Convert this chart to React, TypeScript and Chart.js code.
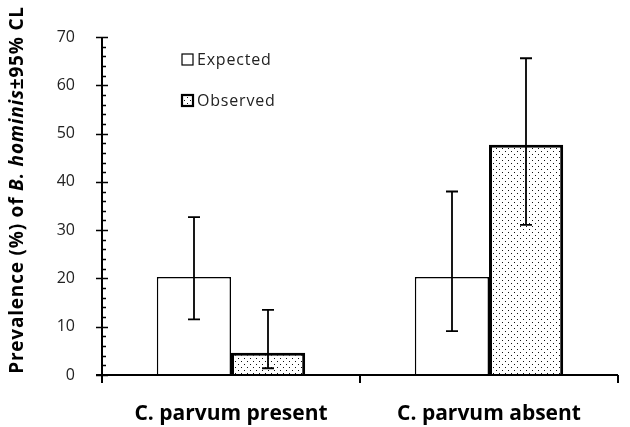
import React, { useEffect, useRef } from "react";
import { Chart, registerables } from "chart.js";

Chart.register(...registerables);

const categories = ["C. parvum present", "C. parvum absent"];
const seriesNames = ["Expected", "Observed"];
const expectedValues = [20.3, 20.3];
const expectedLower = [11.5, 9.1];
const expectedUpper = [32.7, 38.0];
const observedValues = [4.6, 47.7];
const observedLower = [1.4, 31.1];
const observedUpper = [13.5, 65.6];
const yMin = 0;
const yMax = 70;
const yMajorStep = 10;
const yMinorStep = 2;
const yTitleParts = [
  { text: "Prevalence (%) of ", italic: false },
  { text: "B. hominis", italic: true },
  { text: "±95% CL", italic: false },
];

const FONT = "'Open Sans', Lato, sans-serif";

function makeDotPattern(ctx: CanvasRenderingContext2D): CanvasPattern | string {
  const c = document.createElement("canvas");
  c.width = 6;
  c.height = 6;
  const g = c.getContext("2d");
  if (!g) return "#ccc";
  g.fillStyle = "#ffffff";
  g.fillRect(0, 0, 6, 6);
  g.fillStyle = "#111111";
  g.fillRect(1, 1, 1, 1);
  g.fillRect(4, 4, 1, 1);
  const p = ctx.createPattern(c, "repeat");
  return p || "#ccc";
}

export default function App() {
  const canvasRef = useRef<HTMLCanvasElement | null>(null);

  useEffect(() => {
    const canvas = canvasRef.current;
    if (!canvas) return;
    const ctx0 = canvas.getContext("2d") as CanvasRenderingContext2D;
    const dots = makeDotPattern(ctx0);
    const lowers = [expectedLower, observedLower];
    const uppers = [expectedUpper, observedUpper];

    const errorBarPlugin = {
      id: "errorBars",
      afterDatasetsDraw(chart: any) {
        const ctx = chart.ctx;
        const y = chart.scales.y;
        chart.data.datasets.forEach((_ds: any, di: number) => {
          const meta = chart.getDatasetMeta(di);
          meta.data.forEach((bar: any, i: number) => {
            const x = Math.round(bar.x);
            const yl = y.getPixelForValue(lowers[di][i]);
            const yh = y.getPixelForValue(uppers[di][i]);
            ctx.save();
            ctx.strokeStyle = "#000";
            ctx.lineWidth = 1.8;
            ctx.beginPath();
            ctx.moveTo(x, yl);
            ctx.lineTo(x, yh);
            ctx.moveTo(x - 6, yl);
            ctx.lineTo(x + 6, yl);
            ctx.moveTo(x - 6, yh);
            ctx.lineTo(x + 6, yh);
            ctx.stroke();
            ctx.restore();
          });
        });
      },
    };

    const axesPlugin = {
      id: "customAxes",
      afterDatasetsDraw(chart: any) {
        const ctx = chart.ctx;
        const y = chart.scales.y;
        const x = chart.scales.x;
        const ax = chart.chartArea.left;
        const ay = y.getPixelForValue(yMin);
        const right = chart.chartArea.right;
        ctx.save();
        ctx.strokeStyle = "#000";
        ctx.lineWidth = 2;
        ctx.beginPath();
        ctx.moveTo(ax, y.getPixelForValue(yMax));
        ctx.lineTo(ax, ay);
        ctx.moveTo(ax - 6, ay);
        ctx.lineTo(right, ay);
        ctx.stroke();
        ctx.lineWidth = 1.6;
        ctx.beginPath();
        for (let v = yMin; v <= yMax + 1e-9; v += yMinorStep) {
          const py = Math.round(y.getPixelForValue(v)) + 0.5;
          if (Math.abs(v % yMajorStep) < 1e-9) {
            ctx.moveTo(ax - 6, py);
            ctx.lineTo(ax + 6, py);
          } else {
            ctx.moveTo(ax, py);
            ctx.lineTo(ax + 4, py);
          }
        }
        ctx.stroke();
        ctx.lineWidth = 2;
        ctx.beginPath();
        const n = categories.length;
        for (let i = 0; i <= n; i++) {
          const px = x.left + (i * x.width) / n;
          ctx.moveTo(px, ay);
          ctx.lineTo(px, ay + 8);
        }
        ctx.stroke();
        ctx.restore();
      },
    };

    const legendPlugin = {
      id: "customLegend",
      afterDraw(chart: any) {
        const ctx = chart.ctx;
        const items = chart.data.datasets;
        const bx = 182;
        const rows = [60, 101];
        ctx.save();
        items.forEach((ds: any, i: number) => {
          const cy = rows[i];
          ctx.fillStyle = ds.backgroundColor;
          ctx.fillRect(bx, cy - 6, 11, 11);
          ctx.strokeStyle = "#000";
          ctx.lineWidth = ds.borderWidth > 2 ? 2.2 : 1.2;
          ctx.strokeRect(bx, cy - 6, 11, 11);
          ctx.fillStyle = "#222";
          ctx.font = `16px ${FONT}`;
          (ctx as any).letterSpacing = "0.8px";
          ctx.textBaseline = "middle";
          ctx.textAlign = "left";
          ctx.fillText(ds.label, bx + 15, cy);
          (ctx as any).letterSpacing = "0px";
        });
        ctx.restore();
      },
    };

    const titlePlugin = {
      id: "yTitle",
      afterDraw(chart: any) {
        const ctx = chart.ctx;
        ctx.save();
        ctx.translate(18, 190);
        ctx.rotate(-Math.PI / 2);
        ctx.fillStyle = "#000";
        ctx.textBaseline = "middle";
        ctx.textAlign = "left";
        (ctx as any).letterSpacing = "0.8px";
        const fontFor = (it: boolean) => `${it ? "italic " : ""}bold 19px ${FONT}`;
        let total = 0;
        yTitleParts.forEach((p) => {
          ctx.font = fontFor(p.italic);
          total += ctx.measureText(p.text).width;
        });
        let cx = -total / 2;
        yTitleParts.forEach((p) => {
          ctx.font = fontFor(p.italic);
          ctx.fillText(p.text, cx, 0);
          cx += ctx.measureText(p.text).width;
        });
        (ctx as any).letterSpacing = "0px";
        ctx.restore();
      },
    };

    const chart = new Chart(canvas, {
      type: "bar",
      data: {
        labels: categories,
        datasets: [
          {
            label: seriesNames[0],
            data: expectedValues,
            backgroundColor: "#ffffff",
            borderColor: "#000",
            borderWidth: 1.5,
            categoryPercentage: 0.575,
            barPercentage: 1,
          },
          {
            label: seriesNames[1],
            data: observedValues,
            backgroundColor: dots as any,
            borderColor: "#000",
            borderWidth: 3,
            categoryPercentage: 0.575,
            barPercentage: 1,
          },
        ],
      },
      options: {
        animation: false,
        responsive: false,
        devicePixelRatio: 1,
        layout: { padding: { top: 37, right: 12, left: 0, bottom: 0 } },
        plugins: {
          legend: { display: false },
          tooltip: { enabled: false },
        },
        scales: {
          x: {
            grid: { display: false },
            border: { display: false },
            ticks: {
              color: "#000",
              font: { family: FONT, size: 21, weight: "bold" },
              padding: 18,
              maxRotation: 0,
            },
            afterFit(scale: any) {
              scale.height = 52;
            },
          },
          y: {
            min: yMin,
            max: yMax,
            grid: { display: false },
            border: { display: false },
            ticks: {
              stepSize: yMajorStep,
              color: "#222",
              font: { family: FONT, size: 16 },
              padding: 19,
            },
            afterFit(scale: any) {
              scale.width = 102;
            },
          },
        },
      },
      plugins: [errorBarPlugin, axesPlugin, legendPlugin, titlePlugin],
    });

    return () => chart.destroy();
  }, []);

  return (
    <div style={{ position: "fixed", left: 0, top: 0, width: 630, height: 427, background: "#fff" }}>
      <canvas ref={canvasRef} width={630} height={427} />
    </div>
  );
}
